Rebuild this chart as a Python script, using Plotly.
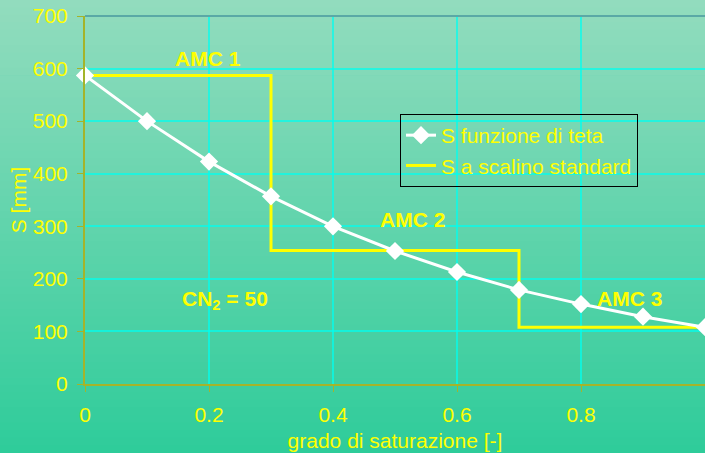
import plotly.graph_objects as go

# Data
theta = [0, 0.1, 0.2, 0.3, 0.4, 0.5, 0.6, 0.7, 0.8, 0.9, 1.0]
S_theta = [587, 500, 423, 357, 300, 253, 213, 179, 152, 128, 108]
step_x = [0, 0.3, 0.7, 1.0]
step_S = [587, 254, 108, 108]
x_ticks = [0, 0.2, 0.4, 0.6, 0.8, 1]
x_tick_labels = ["0", "0.2", "0.4", "0.6", "0.8", "1"]
y_ticks = [0, 100, 200, 300, 400, 500, 600, 700]

W, H = 705, 453
L, R, T, B = 85, 0, 16, 69
pw, ph = W - L - R, H - T - B

YEL = "#ffff00"
FONT = "Liberation Sans, Arial, sans-serif"
FS = 21
GRID = "rgba(0,255,240,0.7)"

fig = go.Figure()
fig.add_trace(go.Scatter(
    x=step_x, y=step_S, mode="lines", line=dict(color=YEL, width=3, shape="hv"),
    name="S a scalino standard", legendrank=2, cliponaxis=False))
fig.add_trace(go.Scatter(
    x=theta, y=S_theta, mode="lines+markers", line=dict(color="white", width=3),
    marker=dict(symbol="diamond", size=14, color="white"),
    name="S funzione di teta", legendrank=1, cliponaxis=False))

# background gradient strips
top = (0x93, 0xdc, 0xbe)
bot = (0x2e, 0xcc, 0x9a)
n = 60
shapes = []
for i in range(n):
    p0 = i * H / n
    p1 = (i + 1) * H / n
    t = (i + 0.5) / n
    c = tuple(round(top[k] + (bot[k] - top[k]) * t) for k in range(3))
    shapes.append(dict(
        type="rect", xref="paper", yref="paper", layer="below",
        x0=-L / pw - 0.01, x1=1 + 0.01,
        y0=(H - B - p1) / ph - 0.001, y1=(H - B - p0) / ph + 0.001,
        fillcolor="rgb(%d,%d,%d)" % c, line=dict(width=0)))
# top border line
shapes.append(dict(type="line", xref="paper", yref="paper", x0=0, x1=1, y0=1, y1=1,
                   line=dict(color="#5aa9a6", width=2), layer="above"))

annots = [
    dict(x=0.198, y=620, text="<b>AMC 1</b>"),
    dict(x=0.528, y=312, text="<b>AMC 2</b>"),
    dict(x=0.879, y=163, text="<b>AMC 3</b>"),
    dict(x=0.226, y=160, text="<b>CN<sub>2</sub> = 50</b>"),
]
annotations = [dict(a, xref="x", yref="y", showarrow=False,
                    font=dict(family=FONT, size=FS, color=YEL)) for a in annots]

fig.update_layout(
    width=W, height=H,
    margin=dict(l=L, r=R, t=T, b=B, autoexpand=False),
    paper_bgcolor="#5fd0a8", plot_bgcolor="rgba(0,0,0,0)",
    font=dict(family=FONT, size=FS, color=YEL),
    shapes=shapes, annotations=annotations,
    showlegend=True,
    legend=dict(x=(400 - L) / pw, y=(H - B - 114) / ph, xanchor="left", yanchor="top",
                bgcolor="rgba(0,0,0,0)", bordercolor="black", borderwidth=1,
                font=dict(family=FONT, size=FS, color=YEL),
                tracegroupgap=0, itemwidth=30),
    xaxis=dict(range=[0, 1], tickvals=x_ticks, ticktext=x_tick_labels,
               showgrid=True, gridcolor=GRID, gridwidth=2,
               showline=True, linecolor="#a4b42a", linewidth=2,
               ticks="outside", ticklen=6, tickcolor="#a4b42a", tickwidth=1,
               tickfont=dict(size=FS, color=YEL), zeroline=False,
               ticklabelstandoff=5,
               title=dict(text="grado di saturazione [-]", standoff=8,
                          font=dict(size=FS, color=YEL))),
    yaxis=dict(range=[0, 700], tickvals=y_ticks,
               showgrid=True, gridcolor=GRID, gridwidth=2,
               showline=True, linecolor="#a4b42a", linewidth=2,
               ticks="outside", ticklen=6, tickcolor="#a4b42a", tickwidth=1,
               tickfont=dict(size=FS, color=YEL), zeroline=False,
               ticklabelstandoff=5,
               title=dict(text="S [mm]", standoff=0, font=dict(size=FS, color=YEL))),
)

fig.write_html("out.html", config={"displayModeBar": False},
               post_script="document.body.style.margin='0';document.body.style.padding='0';"
                           "document.body.style.overflow='hidden';")
